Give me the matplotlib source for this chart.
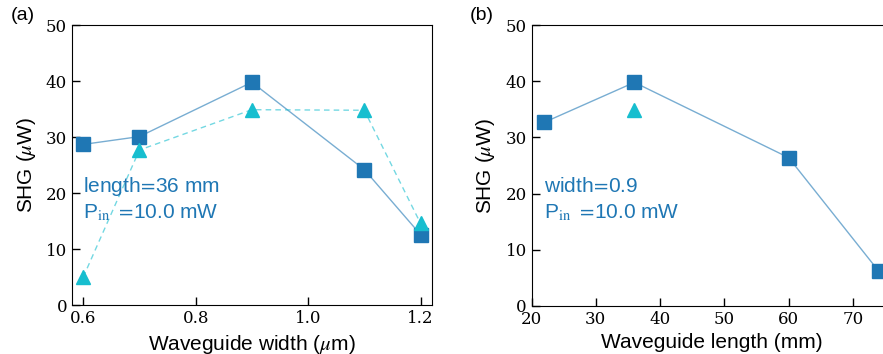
import numpy as np
import matplotlib
matplotlib.use("Agg")
import matplotlib.pyplot as plt

plt.rcParams["font.family"] = ["Liberation Sans", "DejaVu Sans"]
plt.rcParams["mathtext.fontset"] = "stix"

# SHG vs waveguide width (length 36 mm)
width = [0.6, 0.7, 0.9, 1.1, 1.2]
shg_width_sq = [28.7, 30.1, 39.8, 24.2, 12.6]
shg_width_tri = [5.0, 27.7, 34.9, 34.8, 14.6]

# SHG vs waveguide length (width 0.9)
length = [22, 36, 60, 74]
shg_length_sq = [32.7, 39.8, 26.4, 6.2]
length_tri = [36]
shg_length_tri = [34.8]

blue = "#1f77b4"
cyan = "#17becf"

fig = plt.figure(figsize=(8.83, 3.54), dpi=100)
ax1 = fig.add_axes([0.0815, 0.138, 0.4075, 0.791])
ax2 = fig.add_axes([0.602, 0.136, 0.4076, 0.793])


def style(ax):
    ax.tick_params(direction="in", length=6, width=1, top=False, right=False)
    for lab in ax.get_xticklabels() + ax.get_yticklabels():
        lab.set_fontfamily("DejaVu Serif")
        lab.set_fontsize(12)
    ax.set_ylabel(r"SHG ($\mu$W)", fontsize=15, labelpad=6)
    ax.set_ylim(0, 50)
    ax.set_yticks(np.arange(0, 51, 10))


# panel (a)
ax1.plot(width, shg_width_sq, "-", color=blue, alpha=0.6, lw=1)
ax1.plot(width, shg_width_sq, "s", color=blue, ms=10)
ax1.plot(width, shg_width_tri, "--", color=cyan, alpha=0.6, lw=1, dashes=(4, 3))
ax1.plot(width, shg_width_tri, "^", color=cyan, ms=10)
ax1.set_xlim(0.58, 1.22)
ax1.set_xticks([0.6, 0.8, 1.0, 1.2])
ax1.set_xticklabels(["0.6", "0.8", "1.0", "1.2"])
ax1.set_xlabel(r"Waveguide width ($\mu$m)", fontsize=15)
ax1.text(0.6, 21.2, r"length$\!=\!$36 mm", color=blue, fontsize=15, va="center")
ax1.text(0.6, 16.6, r"P$_{\rm in}$ $=\!$10.0 mW", color=blue, fontsize=15, va="center")
style(ax1)

# panel (b)
ax2.plot(length, shg_length_sq, "-", color=blue, alpha=0.6, lw=1)
ax2.plot(length, shg_length_sq, "s", color=blue, ms=10)
ax2.plot(length_tri, shg_length_tri, "^", color=cyan, ms=10)
ax2.set_xlim(20, 76)
ax2.set_xticks(np.arange(20, 71, 10))
ax2.set_xlabel("Waveguide length (mm)", fontsize=15)
ax2.text(22, 21.2, r"width$\!=\!$0.9", color=blue, fontsize=15, va="center")
ax2.text(22, 16.6, r"P$_{\rm in}$ $=\!$10.0 mW", color=blue, fontsize=15, va="center")
style(ax2)

fig.text(0.012, 0.955, "(a)", fontsize=14, va="center")
fig.text(0.532, 0.955, "(b)", fontsize=14, va="center")

fig.savefig("out.png", dpi=100)
